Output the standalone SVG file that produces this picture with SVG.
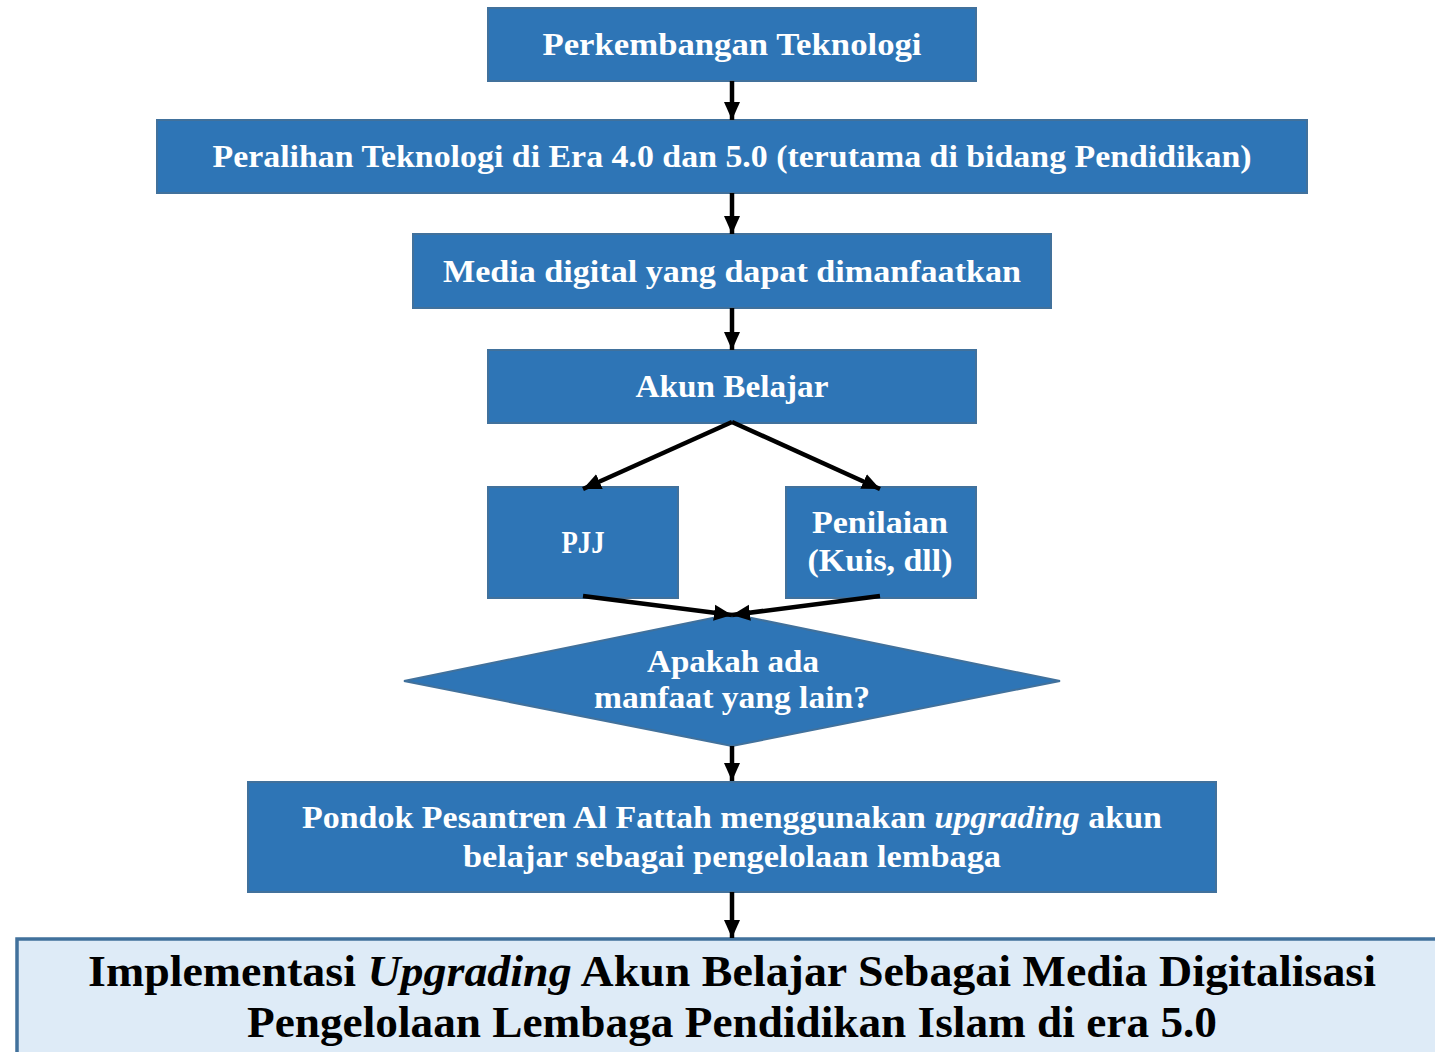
<svg xmlns="http://www.w3.org/2000/svg" width="1435" height="1052" viewBox="0 0 1435 1052">
<style>
.box{fill:#2E75B6;stroke:#41719C;stroke-width:2}
.final{fill:#DEEBF7;stroke:#41719C;stroke-width:3.5}
.t{font-family:"Liberation Serif","DejaVu Serif",serif;font-weight:bold;font-size:31px;fill:#fff;text-anchor:middle}
.tb{font-family:"Liberation Serif","DejaVu Serif",serif;font-weight:bold;font-size:44px;fill:#000;text-anchor:middle}
.c{stroke:#000;stroke-width:4.5;fill:none}
</style>
<defs>
<marker id="ah" markerUnits="userSpaceOnUse" markerWidth="20" markerHeight="20" viewBox="0 0 20 20" refX="18" refY="10" orient="auto">
<path d="M0,2 L18,10 L0,18 Z" fill="#000"/>
</marker>
</defs>
<g id="n1"><rect class="box" x="488" y="8" width="488" height="73"/><text class="t" x="732" y="55" textLength="379" lengthAdjust="spacingAndGlyphs">Perkembangan Teknologi</text></g>
<g id="n2"><rect class="box" x="157" y="120" width="1150" height="73"/><text class="t" x="732" y="167" textLength="1039" lengthAdjust="spacingAndGlyphs">Peralihan Teknologi di Era 4.0 dan 5.0 (terutama di bidang Pendidikan)</text></g>
<g id="n3"><rect class="box" x="413" y="234" width="638" height="74"/><text class="t" x="732" y="282" textLength="578" lengthAdjust="spacingAndGlyphs">Media digital yang dapat dimanfaatkan</text></g>
<g id="n4"><rect class="box" x="488" y="350" width="488" height="73"/><text class="t" x="732" y="397" textLength="193" lengthAdjust="spacingAndGlyphs">Akun Belajar</text></g>
<g id="n5"><rect class="box" x="488" y="487" width="190" height="111"/><text class="t" x="583" y="553" textLength="43" lengthAdjust="spacingAndGlyphs">PJJ</text></g>
<g id="n6"><rect class="box" x="786" y="487" width="190" height="111"/><text class="t" x="880" y="533" textLength="136" lengthAdjust="spacingAndGlyphs">Penilaian</text><text class="t" x="880" y="571" textLength="145" lengthAdjust="spacingAndGlyphs">(Kuis, dll)</text></g>
<g id="n7"><polygon class="box" points="732,614 1060,681 732,746 404,681"/><text class="t" x="733" y="672" textLength="172" lengthAdjust="spacingAndGlyphs">Apakah ada</text><text class="t" x="732" y="708" textLength="276" lengthAdjust="spacingAndGlyphs">manfaat yang lain?</text></g>
<g id="n8"><rect class="box" x="248" y="782" width="968" height="110"/><text class="t" x="732" y="828" textLength="860" lengthAdjust="spacingAndGlyphs">Pondok Pesantren Al Fattah menggunakan <tspan font-style="italic">upgrading</tspan> akun</text><text class="t" x="732" y="867" textLength="538" lengthAdjust="spacingAndGlyphs">belajar sebagai pengelolaan lembaga</text></g>
<g id="n9"><rect class="final" x="17" y="939" width="1430" height="130"/><text class="tb" x="732" y="986" textLength="1288" lengthAdjust="spacingAndGlyphs">Implementasi <tspan font-style="italic">Upgrading</tspan> Akun Belajar Sebagai Media Digitalisasi</text><text class="tb" x="732" y="1037" textLength="970" lengthAdjust="spacingAndGlyphs">Pengelolaan Lembaga Pendidikan Islam di era 5.0</text></g>
<g id="connectors">
<line class="c" x1="732" y1="81" x2="732" y2="120" marker-end="url(#ah)"/>
<line class="c" x1="732" y1="193" x2="732" y2="234" marker-end="url(#ah)"/>
<line class="c" x1="732" y1="308" x2="732" y2="350" marker-end="url(#ah)"/>
<polyline class="c" points="732,422 583,489" marker-end="url(#ah)"/>
<polyline class="c" points="732,422 880,489" marker-end="url(#ah)"/>
<line class="c" x1="583" y1="596" x2="732" y2="615" marker-end="url(#ah)"/>
<line class="c" x1="880" y1="596" x2="732" y2="615" marker-end="url(#ah)"/>
<line class="c" x1="732" y1="746" x2="732" y2="781" marker-end="url(#ah)"/>
<line class="c" x1="732" y1="892" x2="732" y2="938" marker-end="url(#ah)"/>
</g>
</svg>
